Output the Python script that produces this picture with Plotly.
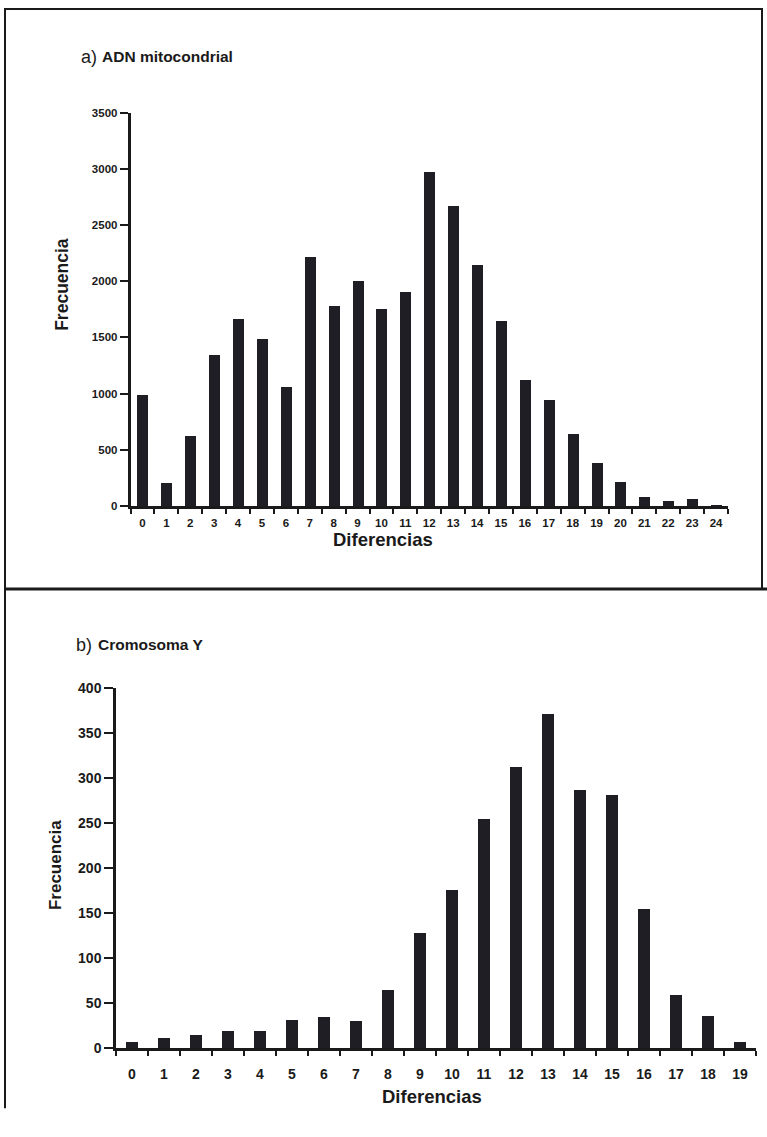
import plotly.graph_objects as go

# ---- data ----
mt_diffs = [str(i) for i in range(25)]
mt_freq = [990, 207, 623, 1347, 1665, 1484, 1063, 2220, 1778, 2007, 1754, 1903,
           2971, 2669, 2143, 1650, 1119, 944, 644, 383, 214, 83, 47, 60, 8]
mt_yticks = [0, 500, 1000, 1500, 2000, 2500, 3000, 3500]

y_diffs = [str(i) for i in range(20)]
y_freq = [7, 11, 15, 19, 19, 31, 35, 30, 65, 128, 176, 254, 312, 371, 287, 281,
          155, 59, 36, 7]
y_yticks = [0, 50, 100, 150, 200, 250, 300, 350, 400]

W, H = 767, 1137
OFF_Y, SC_Y = 8.3, 0.9855
def X(px):
    return px / W
def Y(py):
    return 1 - ((py - OFF_Y) / SC_Y) / H

FONT = "Liberation Sans, Arial, Helvetica, sans-serif"
BAR = "#1e1e24"
INK = "#1a1a1a"

fig = go.Figure()
fig.add_trace(go.Bar(x=mt_diffs, y=mt_freq, width=0.46, marker=dict(color=BAR, line=dict(width=0)),
                     xaxis="x", yaxis="y", showlegend=False))
fig.add_trace(go.Bar(x=y_diffs, y=y_freq, width=0.38, marker=dict(color=BAR, line=dict(width=0)),
                     xaxis="x2", yaxis="y2", showlegend=False))

tick_small = dict(family=FONT, size=11.5, color=INK, weight="bold")
tick_big = dict(family=FONT, size=14, color=INK, weight="bold")

fig.update_layout(
    width=W, height=H,
    margin=dict(l=0, r=0, t=0, b=0),
    paper_bgcolor="white", plot_bgcolor="white",
    bargap=0,
    xaxis=dict(domain=[X(130.5), X(728)], anchor="y", type="category",
               range=[-0.5, 24.5], showline=True, linecolor=INK, linewidth=2.5,
               ticks="outside", tickson="boundaries", ticklen=5, tickwidth=2, tickcolor=INK,
               ticklabelstandoff=5,
               tickfont=tick_small, showgrid=False, zeroline=False, fixedrange=True),
    yaxis=dict(domain=[Y(506), Y(113)], anchor="x", range=[0, 3500],
               tickvals=mt_yticks, showline=True, linecolor=INK, linewidth=2.5,
               ticks="outside", ticklen=8, tickwidth=2, tickcolor=INK,
               tickfont=tick_small, showgrid=False, zeroline=False, fixedrange=True),
    xaxis2=dict(domain=[X(116), X(756)], anchor="y2", type="category",
                range=[-0.5, 19.5], showline=True, linecolor=INK, linewidth=2.5,
                ticks="outside", tickson="boundaries", ticklen=5, tickwidth=2, tickcolor=INK,
                ticklabelstandoff=11,
                tickfont=tick_big, showgrid=False, zeroline=False, fixedrange=True),
    yaxis2=dict(domain=[Y(1048), Y(688)], anchor="x2", range=[0, 400],
                tickvals=y_yticks, showline=True, linecolor=INK, linewidth=2.5,
                ticks="outside", ticklen=9, tickwidth=2, tickcolor=INK,
                tickfont=tick_big, showgrid=False, zeroline=False, fixedrange=True),
)

def ann(text, x, y, size, bold=True, angle=0, xanchor="center"):
    fig.add_annotation(text=text, x=X(x), y=Y(y), xref="paper", yref="paper",
                       showarrow=False, textangle=angle, xanchor=xanchor, yanchor="middle",
                       font=dict(family=FONT, size=size, color=INK,
                                 weight="bold" if bold else "normal"))

ann("a)", 79, 57, 18, bold=False, xanchor="left")
ann("ADN mitocondrial", 100, 57, 15.5, xanchor="left")
ann("Frecuencia", 62, 285, 17.5, angle=-90)
ann("Diferencias", 383, 540, 18.5)

ann("b)", 74, 645, 18, bold=False, xanchor="left")
ann("Cromosoma Y", 96, 645, 15.5, xanchor="left")
ann("Frecuencia", 55, 865, 17, angle=-90)
ann("Diferencias", 432, 1096, 18.5)

# panel borders
line = dict(color=INK, width=2)
top_y = min(Y(5), 1 - 1.0 / H)
fig.add_shape(type="rect", xref="paper", yref="paper", x0=X(5), x1=X(762), y0=Y(589), y1=top_y,
              line=line, fillcolor="rgba(0,0,0,0)")
fig.add_shape(type="line", xref="paper", yref="paper", x0=X(5), x1=X(767), y0=Y(589), y1=Y(589),
              line=dict(color=INK, width=3))
fig.add_shape(type="line", xref="paper", yref="paper", x0=X(5), x1=X(5), y0=Y(589), y1=Y(1108),
              line=line)

fig.write_html("out.html", config={"displayModeBar": False},
               post_script="document.body.style.margin='0';document.body.style.overflow='hidden';")
